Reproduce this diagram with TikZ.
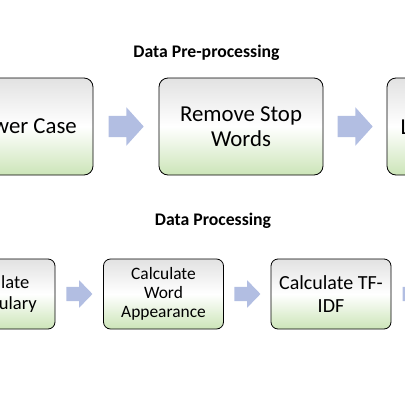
\documentclass[tikz,border=0pt]{standalone}
\usepackage{fontspec}
\setmainfont{Carlito}
\usetikzlibrary{shapes.arrows,calc}
\definecolor{boxtop}{RGB}{226,226,226}
\definecolor{boxbot}{RGB}{204,229,184}
\definecolor{arrowc}{RGB}{178,190,226}
\begin{document}
\begin{tikzpicture}[x=1pt,y=-1pt,
  stepbox/.style={draw=black, line width=0.8pt, top color=boxtop, bottom color=boxbot, middle color=white, align=center, inner sep=0pt},
  bigbox/.style={stepbox, minimum width=164pt, minimum height=97pt, rounded corners=9pt, font=\fontsize{22.8}{25}\selectfont},
  smallbox/.style={stepbox, minimum width=120pt, minimum height=70pt, rounded corners=7pt},
  titletext/.style={font=\fontsize{17.7}{20}\selectfont\bfseries, anchor=base},
  bigarrow/.style={single arrow, draw=none, fill=arrowc, inner xsep=0pt, inner ysep=10.5pt, minimum height=35pt, single arrow head extend=8.5pt, single arrow tip angle=96, anchor=tail},
  smallarrow/.style={single arrow, draw=none, fill=arrowc, inner xsep=0pt, inner ysep=7pt, minimum height=26pt, single arrow head extend=6.5pt, single arrow tip angle=92, anchor=tail}]
\useasboundingbox (0,0) rectangle (405,405);
\clip (0,0) rectangle (405,405);
% titles
\node[titletext] (t1) at (206.5,57) {Data Pre-processing};
\node[titletext] (t2) at (213,225) {Data Processing};
% top row
\node[bigbox] (b1) at (11,126.5) {};
\node[font=\fontsize{22.8}{25}\selectfont, anchor=east, inner sep=0pt] (l1) at (77,126) {Lower Case};
\node[bigbox] (b2) at (241,126.5) {Remove Stop\\Words};
\node[bigbox] (b3) at (469,126.5) {Lemmatization};
\node[bigarrow] (a1) at ($(b1.east)!0.5!(b2.west)+(-17.5,0)$) {};
\node[bigarrow] (a2) at ($(b2.east)!0.5!(b3.west)+(-17.5,0)$) {};
% bottom row
\node[smallbox, font=\fontsize{18.5}{20.5}\selectfont] (c1) at (-5,294) {Calculate\\Vocabulary};
\node[smallbox, font=\fontsize{17.4}{19.2}\selectfont] (c2) at (163.5,294) {Calculate\\Word\\Appearance};
\node[smallbox, font=\fontsize{20}{23}\selectfont] (c3) at (331,294) {Calculate TF-\\IDF};
\coordinate (c4w) at ($(c3.east)+(48,0)$);
\node[smallarrow] (a3) at ($(c1.east)!0.5!(c2.west)+(-13,0)$) {};
\node[smallarrow] (a4) at ($(c2.east)!0.5!(c3.west)+(-13,0)$) {};
\node[smallarrow] (a5) at ($(c3.east)!0.5!(c4w)+(-13,0)$) {};
\end{tikzpicture}
\end{document}
